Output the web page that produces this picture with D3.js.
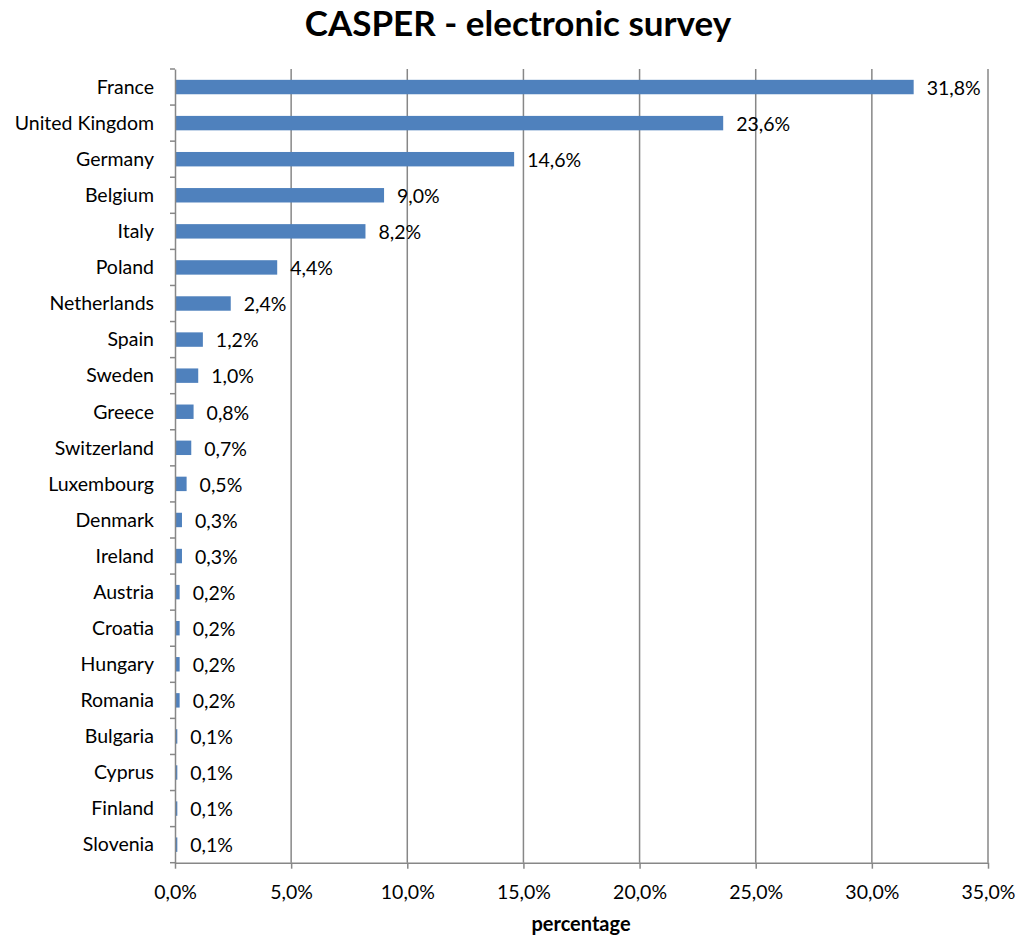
<!DOCTYPE html>
<html><head><meta charset="utf-8">
<script src="https://cdn.jsdelivr.net/npm/d3@7"></script>
<style>body{margin:0;background:#fff}svg{display:block}text{font-family:Lato,"Open Sans",sans-serif;fill:#000}</style>
</head><body>
<svg id="c" width="1018" height="936"></svg>
<script>
const categories = ["France","United Kingdom","Germany","Belgium","Italy","Poland","Netherlands","Spain","Sweden","Greece","Switzerland","Luxembourg","Denmark","Ireland","Austria","Croatia","Hungary","Romania","Bulgaria","Cyprus","Finland","Slovenia"];
const values = [31.8,23.6,14.6,9.0,8.2,4.4,2.4,1.2,1.0,0.8,0.7,0.5,0.3,0.3,0.2,0.2,0.2,0.2,0.1,0.1,0.1,0.1];
const xTicks = [0,5,10,15,20,25,30,35];
const title = "CASPER - electronic survey";
const xTitle = "percentage";

const svg = d3.select("#c");
const L=175, R=988, T=69, B=862.7;
const FS = 19.5;
const x = d3.scaleLinear().domain([0,35]).range([L,R]);
const y = d3.scaleBand().domain(categories).range([T,B]).paddingInner(0.6).paddingOuter(0.3);
const fmt = v => v.toFixed(1).replace(".", ",") + "%";
const grey = "#878787";

// gridlines
svg.append("g").selectAll("line").data(xTicks.slice(1)).join("line")
  .attr("x1",d=>x(d)).attr("x2",d=>x(d)).attr("y1",T).attr("y2",B)
  .attr("stroke",grey).attr("stroke-width",1.5);

// bars
svg.append("g").selectAll("rect").data(values).join("rect")
  .attr("x",L).attr("y",(d,i)=>y(categories[i]))
  .attr("width",d=>x(d)-L).attr("height",y.bandwidth())
  .attr("fill","#4f81bd");

// value labels
svg.append("g").selectAll("text").data(values).join("text")
  .attr("x",d=>x(d)+13).attr("y",(d,i)=>y(categories[i])+y.bandwidth()/2+1)
  .attr("dy","0.35em").attr("font-size",FS).text(d=>fmt(d));

// y axis
const yOuter = d3.scaleBand().domain(categories).range([T,B]);
const ya = svg.append("g").attr("transform",`translate(${L},0)`)
  .call(d3.axisLeft(yOuter).tickSize(0).tickPadding(21));
ya.select(".domain").attr("stroke",grey).attr("stroke-width",1.5);
ya.selectAll("text").attr("font-size",FS).attr("font-family","Lato,sans-serif").attr("fill","#000").attr("dy","0.35em");
// category separator ticks
svg.append("g").selectAll("line").data(d3.range(categories.length+1)).join("line")
  .attr("x1",L-5).attr("x2",L).attr("y1",i=>T+i*yOuter.step()).attr("y2",i=>T+i*yOuter.step())
  .attr("stroke",grey).attr("stroke-width",1.5);

// x axis
const xa = svg.append("g").attr("transform",`translate(0,${B})`)
  .call(d3.axisBottom(x).tickValues(xTicks).tickFormat(fmt).tickSize(6).tickPadding(16).tickSizeOuter(0));
xa.select(".domain").attr("stroke",grey).attr("stroke-width",1.5);
xa.selectAll("line").attr("stroke",grey).attr("stroke-width",1.5);
xa.selectAll("text").attr("font-size",FS).attr("font-family","Lato,sans-serif").attr("fill","#000");

svg.append("text").attr("x",581).attr("y",931).attr("text-anchor","middle")
  .attr("font-size",20).attr("font-weight","bold").text(xTitle);
svg.append("text").attr("x",518).attr("y",36).attr("text-anchor","middle")
  .attr("font-size",35).attr("font-weight","bold").text(title);
</script>
</body></html>
